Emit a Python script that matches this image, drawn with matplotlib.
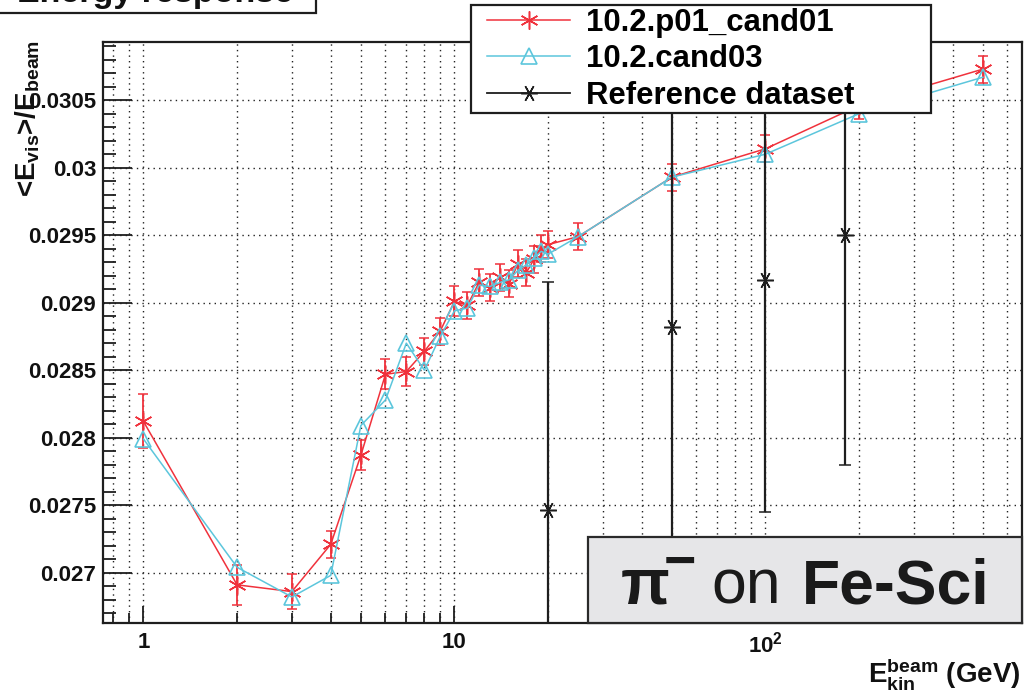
import matplotlib
matplotlib.use('Agg')
import matplotlib.pyplot as plt
from matplotlib.ticker import FixedLocator, FixedFormatter, MultipleLocator, NullFormatter
from matplotlib.patches import Rectangle

plt.rcParams['font.family'] = ['Liberation Sans', 'DejaVu Sans']
plt.rcParams['mathtext.fontset'] = 'custom'
plt.rcParams['mathtext.rm'] = 'Liberation Sans'
plt.rcParams['mathtext.bf'] = 'Liberation Sans:bold'
plt.rcParams['mathtext.it'] = 'Liberation Sans:italic'

# ---------------- data ----------------
energy = [1, 2, 3, 4, 5, 6, 7, 8, 9, 10, 11, 12, 13, 14, 15, 16, 17, 18, 19, 20,
          25, 50, 100, 200, 500]
resp_p01 = [0.02812, 0.02691, 0.02686, 0.02721, 0.02787, 0.02847, 0.02849, 0.02864,
            0.02879, 0.02901, 0.02898, 0.02915, 0.02911, 0.02919, 0.02914, 0.02929,
            0.02922, 0.02932, 0.02940, 0.02943, 0.02949, 0.02993, 0.03014, 0.03046,
            0.03073]
err_p01 = [0.00020, 0.00015, 0.00013, 0.00010, 0.00011, 0.00011, 0.00011, 0.00010,
           0.00010, 0.00011, 0.00010, 0.00010, 0.00010, 0.00010, 0.00010, 0.00010,
           0.00010, 0.00010, 0.00010, 0.00010, 0.00010, 0.00010, 0.00010, 0.00010,
           0.00010]
resp_cand03 = [0.02799, 0.02704, 0.02682, 0.02698, 0.02809, 0.02828, 0.02870, 0.02850,
               0.02875, 0.02894, 0.02896, 0.02913, 0.02912, 0.02915, 0.02917, 0.02924,
               0.02928, 0.02933, 0.02938, 0.02936, 0.02949, 0.02993, 0.03010, 0.03040,
               0.03067]
ref_energy = [20, 50, 100, 180]
ref_resp = [0.027465, 0.028820, 0.029168, 0.029500]
ref_err = [0.00169, 0.00220, 0.00172, 0.00170]

series_labels = ['10.2.p01_cand01', '10.2.cand03', 'Reference dataset']
x_major = [1, 10, 100]
x_major_labels = ['1', '10', r'$\mathbf{10^{2}}$']
y_major = [0.027, 0.0275, 0.028, 0.0285, 0.029, 0.0295, 0.030, 0.0305]
y_major_labels = ['0.027', '0.0275', '0.028', '0.0285', '0.029', '0.0295', '0.03', '0.0305']
title_text = 'Energy response'
xlabel_text = r'$\mathbf{E_{kin}^{beam}}$ (GeV)'
ylabel_text = r'<$\mathbf{E_{vis}}$>/$\mathbf{E_{beam}}$'

# ---------------- figure ----------------
W, H = 1024, 693
fig = plt.figure(figsize=(W / 100, H / 100), dpi=100)
fig.patch.set_facecolor('white')

def fx(px):
    return px / W

def fy(py):
    return 1 - py / H

L, R, T, B = 103, 1022, 42, 623
ax = fig.add_axes([fx(L), fy(B), fx(R) - fx(L), fy(T) - fy(B)])

RED = '#f0323c'
CYAN = '#5cc6dc'
BLACK = '#1e1e1e'

e1 = ax.errorbar(energy, resp_p01, yerr=err_p01, color=RED, lw=1.1, marker=(6, 2, 0),
                 ms=13, mew=1.1, elinewidth=1.3, capsize=3.5, capthick=1.3, zorder=3)
l2, = ax.plot(energy, resp_cand03, color=CYAN, lw=1.1, marker='^', ms=12,
              mfc='none', mec=CYAN, mew=1.2, zorder=4)
e3 = ax.errorbar(ref_energy, ref_resp, yerr=ref_err, color=BLACK, lw=0, marker=(6, 2, 90),
                 ms=12, mew=1.1, elinewidth=1.6, capsize=4, capthick=1.6, zorder=5)

ax.set_xscale('log')
ax.set_xlim(0.741, 668)
ax.set_ylim(0.0266274, 0.030931)

ax.xaxis.set_major_locator(FixedLocator(x_major))
ax.xaxis.set_major_formatter(FixedFormatter(x_major_labels))
minor_x = [0.8, 0.9] + [m * d for d in (1, 10, 100) for m in range(2, 10)]
ax.xaxis.set_minor_locator(FixedLocator(minor_x))
ax.xaxis.set_minor_formatter(NullFormatter())
ax.yaxis.set_major_locator(FixedLocator(y_major))
ax.yaxis.set_major_formatter(FixedFormatter(y_major_labels))
ax.yaxis.set_minor_locator(MultipleLocator(0.0001))

ax.tick_params(axis='both', which='both', direction='in', top=False, right=False,
               color=BLACK, width=1.3)
ax.tick_params(axis='x', which='major', length=12, pad=6.5, labelsize=16)
ax.tick_params(axis='x', which='minor', length=7)
ax.tick_params(axis='y', which='major', length=21, pad=5, labelsize=16)
ax.tick_params(axis='y', which='minor', length=9.5)
for lab in ax.get_xticklabels() + ax.get_yticklabels():
    lab.set_fontweight('bold')
    lab.set_color('#111111')

ax.grid(True, axis='x', which='both', color='#222222', linestyle=(0, (1, 3)), lw=1.0)
ax.grid(True, axis='y', which='major', color='#222222', linestyle=(0, (1, 3)), lw=1.0)
ax.set_axisbelow(True)
for s in ax.spines.values():
    s.set_linewidth(1.6)
    s.set_color(BLACK)

# axis titles
fig.text(fx(28), fy(40), ylabel_text, rotation=90, ha='center', va='top',
         fontsize=20, fontweight='bold', color='#111111')
fig.text(fx(1021), fy(683), xlabel_text, ha='right', va='baseline',
         fontsize=20, fontweight='bold', color='#111111')

# title box (cut off at top)
fig.patches.append(Rectangle((fx(-5), fy(12.7)), fx(321), fy(-40) - fy(12.7),
                             transform=fig.transFigure, facecolor='white',
                             edgecolor=BLACK, lw=1.6, zorder=2))
fig.text(fx(17), fy(2), title_text, ha='left', va='baseline', fontsize=24.5,
         fontweight='bold', color='#111111', zorder=3)

# legend box
fig.patches.append(Rectangle((fx(471), fy(113)), fx(931) - fx(471), fy(5) - fy(113),
                             transform=fig.transFigure, facecolor='white',
                             edgecolor=BLACK, lw=1.6, zorder=2))
leg = fig.legend([e1[0], l2, e3[0]], series_labels, loc='upper left',
                 bbox_to_anchor=(fx(487), fy(7.5)), bbox_transform=fig.transFigure,
                 frameon=False, numpoints=1, borderpad=0, borderaxespad=0,
                 handlelength=2.67, handletextpad=0.5, labelspacing=0.22,
                 prop={'size': 22.4, 'weight': 'bold'})
leg.set_zorder(3)
leg.legend_handles[2].set_linewidth(1.3)

# pi- on Fe-Sci box
fig.patches.append(Rectangle((fx(588.3), fy(622.7)), fx(1021.7) - fx(588.3),
                             fy(537.3) - fy(622.7), transform=fig.transFigure,
                             facecolor='#e6e6e8', edgecolor='#2a2a2a', lw=1.6, zorder=2))
txt_c = '#1a1a1a'
fig.text(fx(621), fy(603.3), 'π', ha='left', va='baseline', fontsize=46,
         fontweight='bold', color=txt_c, zorder=3)
fig.text(fx(680), fy(579), '−', ha='center', va='baseline', fontsize=40,
         fontweight='bold', color=txt_c, zorder=3)
fig.text(fx(711.7), fy(603.3), 'on', ha='left', va='baseline', fontsize=45,
         color=txt_c, zorder=3)
fig.text(fx(801.7), fy(603.3), 'Fe-Sci', ha='left', va='baseline', fontsize=45,
         fontweight='bold', color=txt_c, zorder=3)

fig.savefig('out.png', dpi=100)
